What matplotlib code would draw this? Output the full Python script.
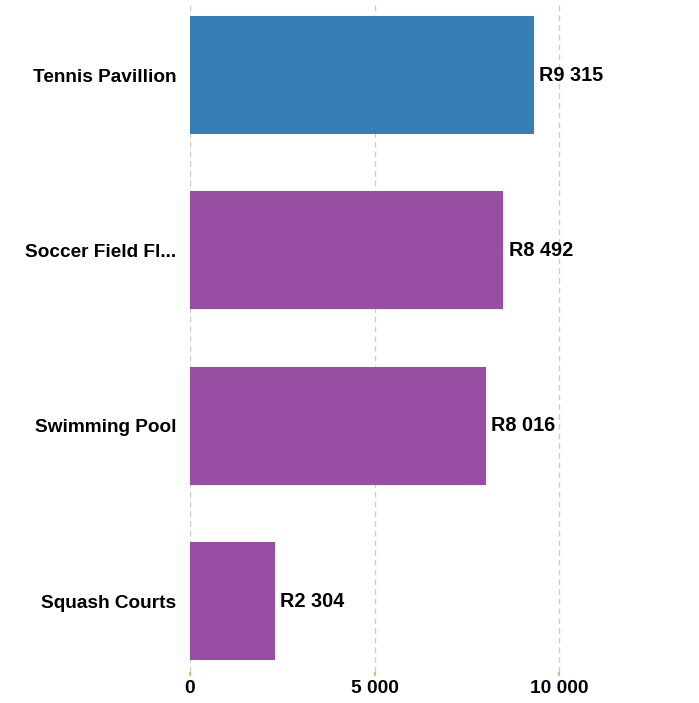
import matplotlib.pyplot as plt

facilities = ['Tennis Pavillion', 'Soccer Field Fl...', 'Swimming Pool', 'Squash Courts']
amounts = [9315, 8492, 8016, 2304]
colors = ['#377eb8', '#984ea3', '#984ea3', '#984ea3']
xticks = [0, 5000, 10000]
xtick_labels = ['0', '5 000', '10 000']

plt.rcParams['font.family'] = ['Liberation Sans', 'DejaVu Sans']

fig = plt.figure(figsize=(6.99, 7.03), dpi=100)
ax = fig.add_axes([190 / 699, 31 / 703, 443 / 699, 667 / 703])

pos = list(range(len(facilities)))
ax.barh(pos, amounts, height=0.673, color=colors, zorder=2)

for p, v in zip(pos, amounts):
    ax.text(v + 140, p, 'R' + f'{v:,}'.replace(',', ' '), va='center', ha='left',
            fontsize=14.3, fontweight='bold', color='black')

ax.set_xlim(0, 12000)
ax.set_ylim(3.405, -0.4)
ax.set_yticks(pos)
ax.set_yticklabels(facilities, fontsize=13.7, fontweight='bold')
ax.set_xticks(xticks)
ax.set_xticklabels(xtick_labels, fontsize=13.8, fontweight='bold')
ax.tick_params(axis='y', length=0, pad=10)
ax.tick_params(axis='x', length=3, width=1.2, color='#f5a04a', pad=3)
ax.grid(axis='x', linestyle=(0, (4, 3)), color='#cccccc', linewidth=1, zorder=0)
for s in ax.spines.values():
    s.set_visible(False)

fig.savefig('out.png', dpi=100)
